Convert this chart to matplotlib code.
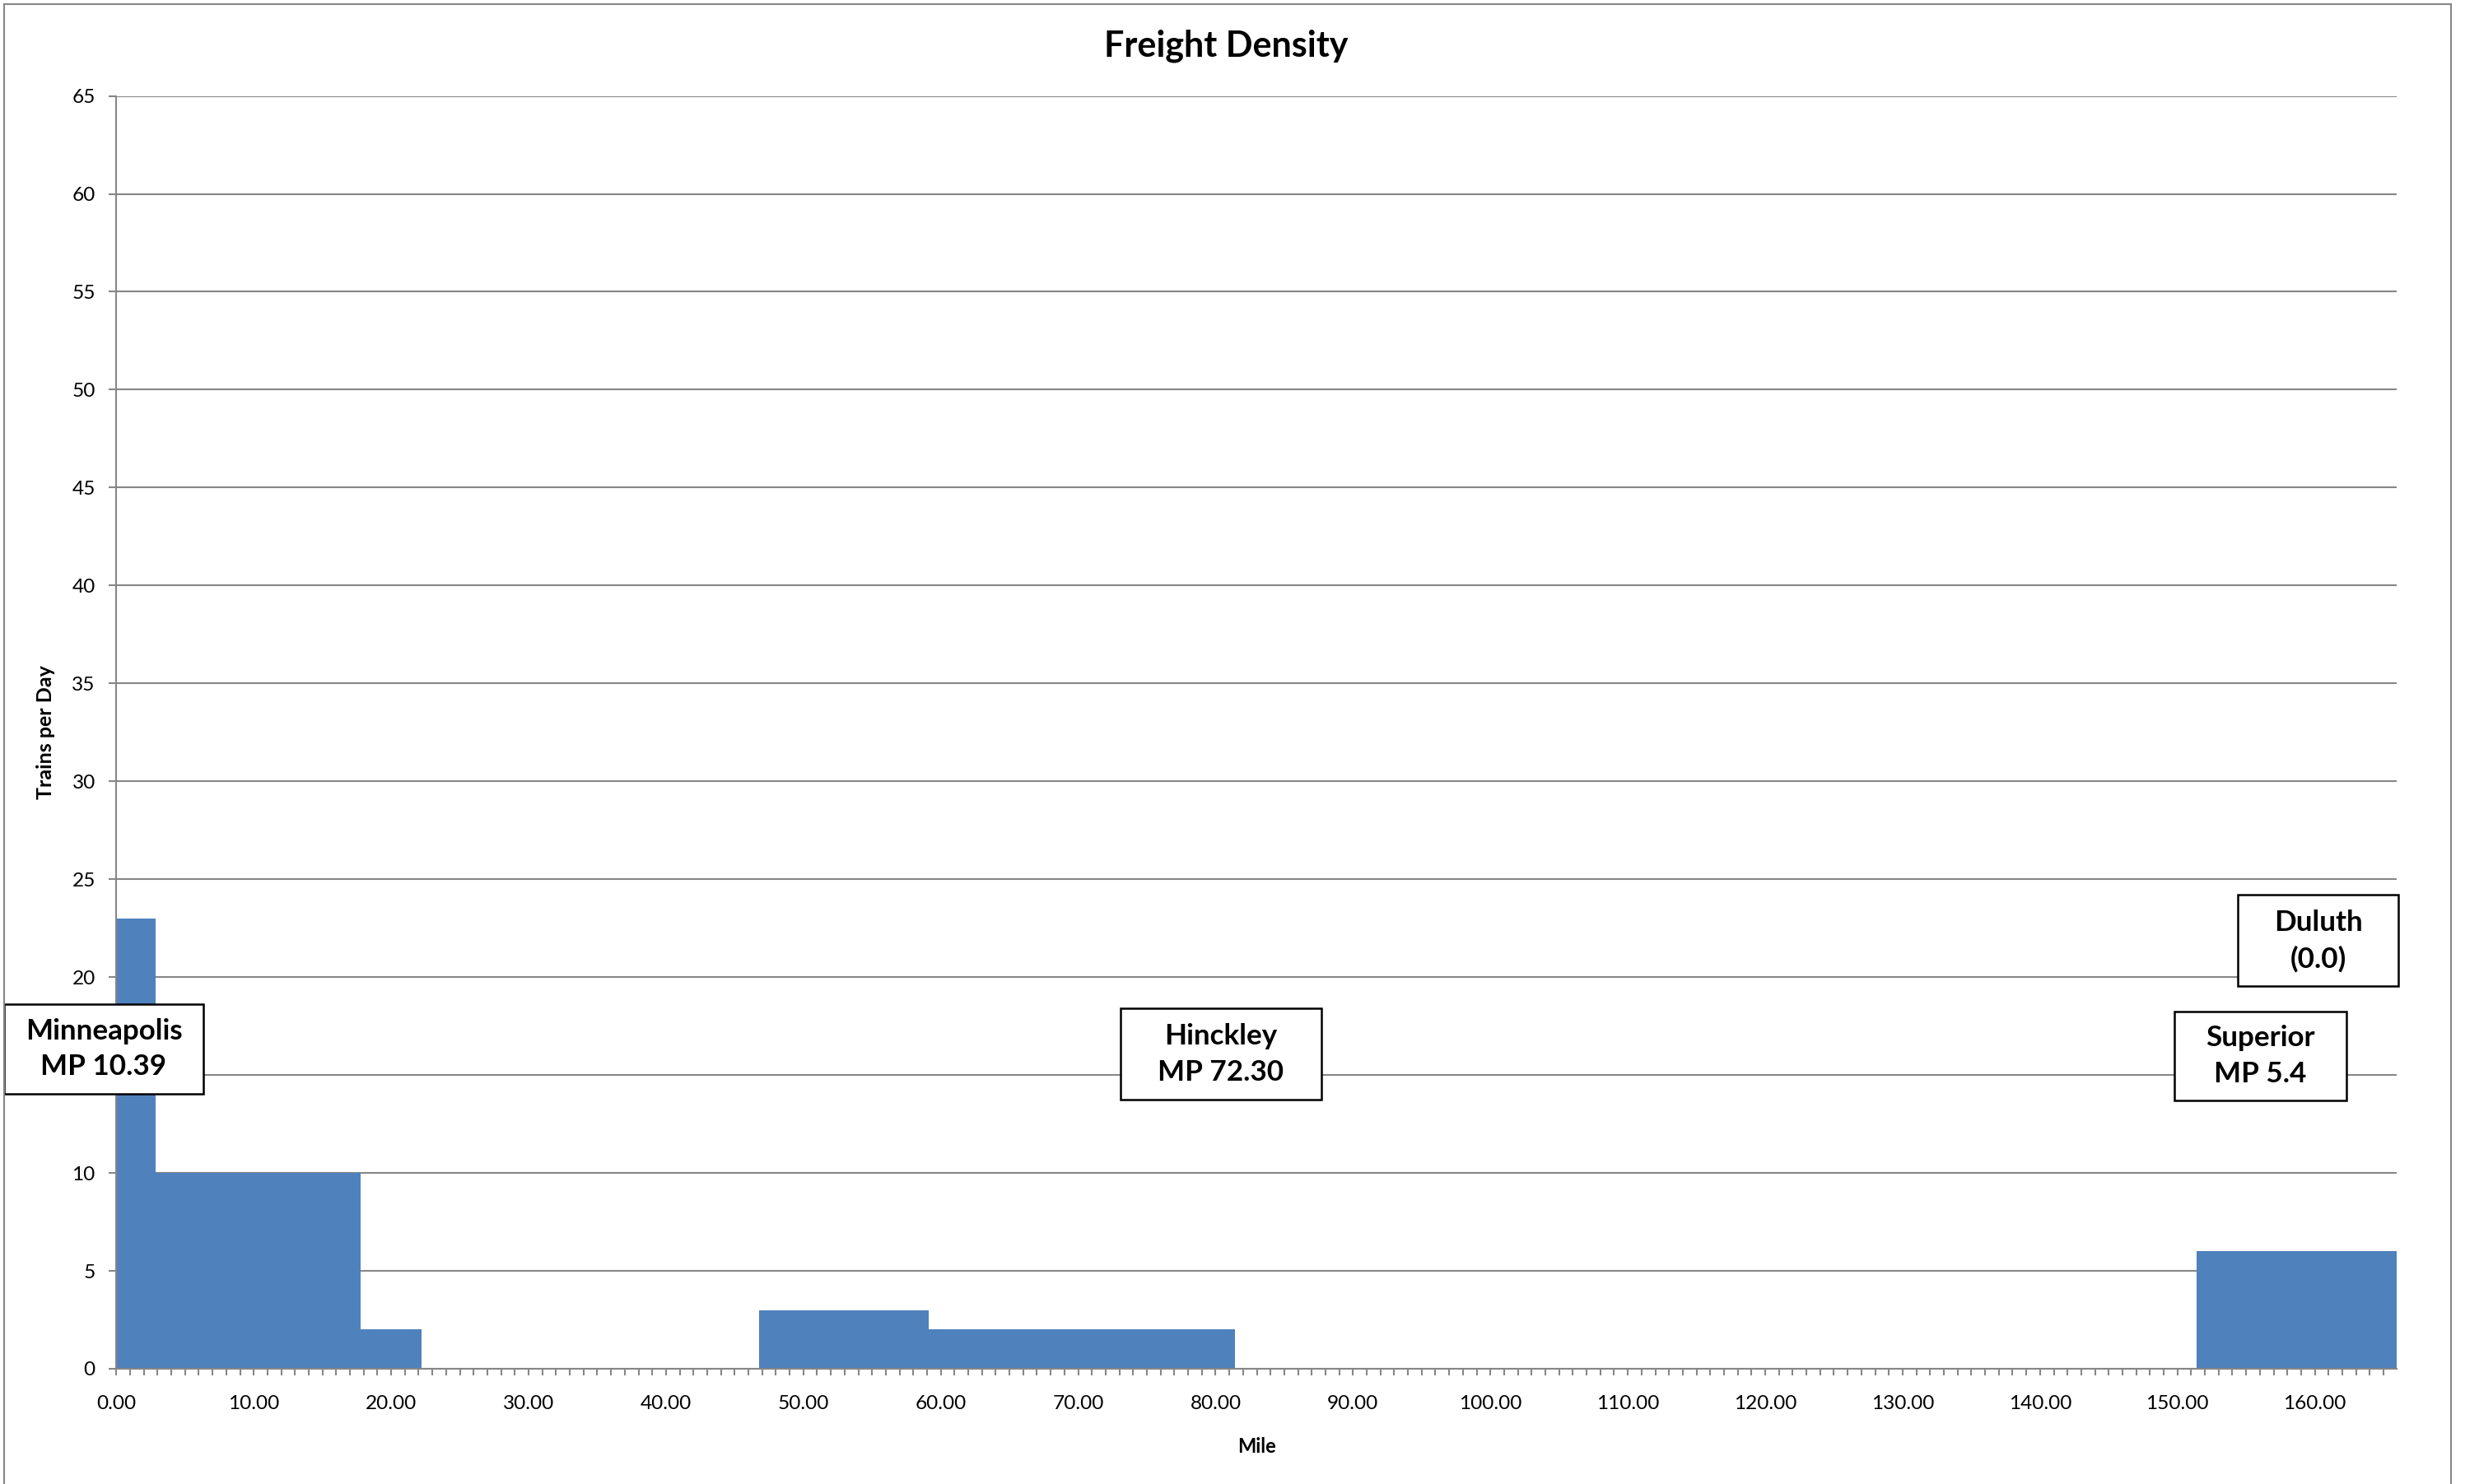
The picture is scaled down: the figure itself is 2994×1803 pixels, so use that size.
"""
Freight density chart (trains per day by mile)
"""
import matplotlib
matplotlib.use("Agg")
import matplotlib.pyplot as plt
from matplotlib.patches import Rectangle
from matplotlib.ticker import MultipleLocator, StrMethodFormatter

## data
seg_start = [0.0, 2.86, 17.8, 46.8, 59.1, 151.4]
seg_end = [2.86, 17.8, 22.2, 59.1, 81.4, 165.96]
trains = [23, 10, 2, 3, 2, 6]

station_labels = ["Minneapolis\nMP 10.39", "Hinckley\nMP 72.30",
                  "Superior\nMP 5.4", "Duluth\n(0.0)"]

# box centres / sizes in data units (mile, trains)
box_x = [-0.92, 80.39, 156.05, 160.25]
box_y = [16.33, 16.06, 15.96, 21.86]
box_w = [14.54, 14.62, 12.5, 11.68]
box_h = [4.62, 4.67, 4.54, 4.67]

plt.rcParams['font.family'] = ['Lato', 'DejaVu Sans']

GRAY = '#868686'
BLUE = '#4F81BD'

fig = plt.figure(figsize=(14.97, 9.015), dpi=200)
ax = fig.add_axes([0.0472, 0.07765, 0.9251, 0.8577])

widths = [e - s for s, e in zip(seg_start, seg_end)]
ax.bar(seg_start, trains, width=widths, align='edge', color=BLUE,
       edgecolor='none', zorder=2)

ax.set_xlim(0, 165.96)
ax.set_ylim(0, 65)

ax.yaxis.set_major_locator(MultipleLocator(5))
ax.xaxis.set_major_locator(MultipleLocator(10))
ax.xaxis.set_minor_locator(MultipleLocator(1))
ax.xaxis.set_major_formatter(StrMethodFormatter('{x:.2f}'))

ax.grid(axis='y', color=GRAY, linewidth=0.75, zorder=0)
ax.set_axisbelow(True)

for side in ['top', 'right']:
    ax.spines[side].set_visible(False)
for side in ['left', 'bottom']:
    ax.spines[side].set_color(GRAY)
    ax.spines[side].set_linewidth(0.75)
    ax.spines[side].set_zorder(3)

ax.tick_params(axis='y', length=3.2, width=0.75, color=GRAY, pad=6,
               labelsize=8.8)
ax.tick_params(axis='x', which='both', length=2.9, width=0.75, color=GRAY,
               direction='out', pad=8.5, labelsize=8.8)

# the "15" label sits under the Minneapolis box in the reference
fig.canvas.draw()
for t in ax.get_yticklabels():
    if t.get_text() == '15':
        t.set_visible(False)

# station boxes
for lab, cx, cy, w, h in zip(station_labels, box_x, box_y, box_w, box_h):
    ax.add_patch(Rectangle((cx - w / 2, cy - h / 2), w, h, facecolor='white',
                           edgecolor='black', linewidth=0.9, zorder=5,
                           clip_on=False))
    ax.text(cx, cy, lab, ha='center', va='center', fontsize=12.6,
            fontweight='bold', linespacing=1.45, zorder=6)

fig.text(0.4975, 0.9693, 'Freight Density', ha='center', va='center',
         fontsize=15.5, fontweight='bold')
fig.text(0.5097, 0.025, 'Mile', ha='center', va='center',
         fontsize=8.5, fontweight='bold')
fig.text(0.0187, 0.5064, 'Trains per Day', ha='center', va='center',
         rotation=90, fontsize=9, fontweight='bold')

# chart area border
fig.patches.append(Rectangle((5 / 2994, -0.01), 2972 / 2994, 1.01 - 5 / 1803,
                             transform=fig.transFigure, fill=False,
                             edgecolor=GRAY, linewidth=0.75))

fig.savefig('out.png', dpi=200)
